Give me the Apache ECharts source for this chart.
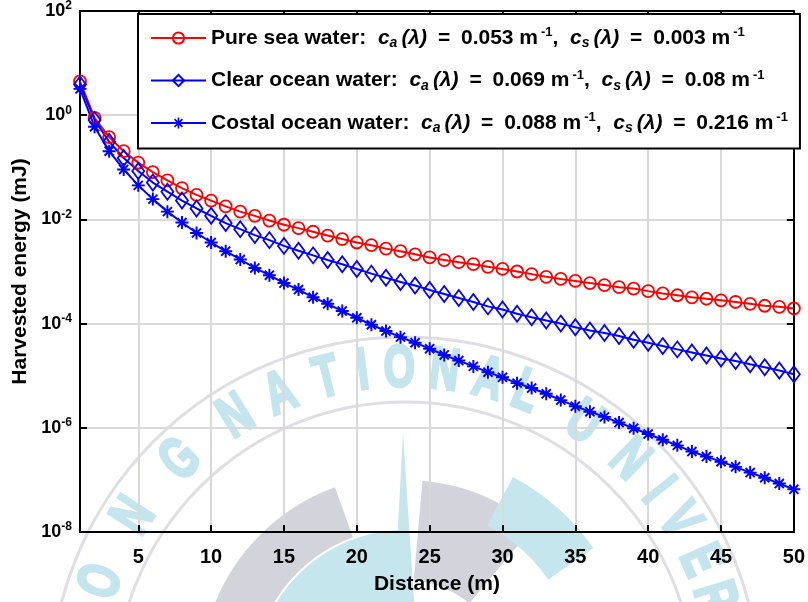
<!DOCTYPE html>
<html>
<head>
<meta charset="utf-8">
<script src="https://cdn.jsdelivr.net/npm/echarts@6/dist/echarts.min.js"></script>
<style>
  html, body { margin: 0; padding: 0; background: #fff; }
  #chart { width: 808px; height: 602px; }
</style>
</head>
<body>
<div id="chart"></div>
<script>
// Transmitter-receiver distance (m)
const distances = [1, 2, 3, 4, 5, 6, 7, 8, 9, 10, 11, 12, 13, 14, 15, 16, 17, 18, 19, 20,
  21, 22, 23, 24, 25, 26, 27, 28, 29, 30, 31, 32, 33, 34, 35, 36, 37, 38, 39, 40,
  41, 42, 43, 44, 45, 46, 47, 48, 49, 50];

// Harvested energy (mJ) for each water type
const pureSea = [4.45, 0.89, 0.38, 0.204, 0.123, 0.081, 0.056, 0.040, 0.0295, 0.0229,
  0.0178, 0.0141, 0.0117, 0.0095, 0.0079, 0.0068, 0.0058, 0.0049, 0.0042, 0.0036,
  0.0032, 0.00275, 0.00245, 0.00214, 0.00186, 0.00166, 0.00151, 0.00138, 0.00123, 0.00112,
  0.00100, 0.00089, 0.00079, 0.00072, 0.00066, 0.00060, 0.00055, 0.00050, 0.00047, 0.00042,
  0.00038, 0.00035, 0.00032, 0.00030, 0.00028, 0.00026, 0.00024, 0.00022, 0.00021, 0.000195];

const clearOcean = [3.9, 0.81, 0.31, 0.151, 0.085, 0.051, 0.034, 0.023, 0.0162, 0.0117,
  0.0085, 0.0065, 0.0050, 0.0040, 0.0031, 0.0025, 0.00204, 0.00166, 0.00138, 0.00112,
  0.00091, 0.00076, 0.00063, 0.00054, 0.00044, 0.00037, 0.00031, 0.00026, 0.000214, 0.000186,
  0.000155, 0.000132, 0.000115, 0.000100, 0.000085, 0.000074, 0.000066, 0.000058, 0.000049, 0.000043,
  0.000037, 0.000032, 0.000028, 0.0000245, 0.0000214, 0.0000191, 0.0000166, 0.0000145, 0.0000126, 0.0000107];

const coastalOcean = [3.2, 0.60, 0.204, 0.091, 0.045, 0.0245, 0.0141, 0.0087, 0.0055, 0.0036,
  0.00245, 0.0017, 0.00117, 0.00085, 0.0006, 0.00045, 0.00032, 0.00024, 0.000174, 0.000129,
  0.000095, 0.000072, 0.000055, 0.000043, 0.000033, 0.000025, 0.0000195, 0.0000151, 0.0000117, 0.0000093,
  0.0000072, 0.0000058, 0.0000045, 0.0000034, 0.0000026, 0.00000204, 0.00000162, 0.00000126, 9.8e-7, 7.6e-7,
  5.9e-7, 4.6e-7, 3.5e-7, 2.8e-7, 2.24e-7, 1.78e-7, 1.38e-7, 1.10e-7, 8.5e-8, 6.6e-8];

const seriesNames = ['Pure sea water', 'Clear ocean water', 'Costal ocean water'];
const absorption = ['0.053', '0.069', '0.088'];
const scattering = ['0.003', '0.08', '0.216'];

const xTickStep = 5;
const yRange = [1e-8, 1e2];

const FONT = '"Liberation Sans", Arial, Helvetica, sans-serif';

// MATLAB-style asterisk marker (+ and x overlaid)
const asterisk = 'path://M0 8.5H20V11.5H0Z M8.5 0H11.5V20H8.5Z ' +
  'M1.94 4.06L4.06 1.94L18.06 15.94L15.94 18.06Z M15.94 1.94L18.06 4.06L4.06 18.06L1.94 15.94Z';

const onStep = (i, v) => Number(v) % xTickStep === 0;

// Faint university seal in the background
const seal = { cx: 405, cy: 692 };
const emblem = { cx: 405, cy: 680 };
const sealLetters = [['Y', -82], ['O', -70], ['N', -57], ['G', -44], ['N', -31.5], ['A', -22.7],
  ['T', -14], ['I', -7.5], ['O', -1], ['N', 7], ['A', 15], ['L', 22], ['U', 33.6], ['N', 44],
  ['I', 51.5], ['V', 58], ['E', 66], ['R', 73]];
const deg = Math.PI / 180;
const grayTone = '#d3d3dc';
const cyanTone = '#c6e6ee';
const letterTone = '#c4e5ee';
const sector = (r0, r, a0, a1, fill) => ({
  type: 'sector', z: -10,
  shape: { cx: emblem.cx, cy: emblem.cy, r0: r0, r: r, startAngle: a0 * deg, endAngle: a1 * deg },
  style: { fill: fill }
});
const sealGraphics = [
  { type: 'circle', z: -10, shape: { cx: seal.cx, cy: seal.cy, r: 355 },
    style: { fill: 'none', stroke: '#dedee4', lineWidth: 3 } },
  { type: 'circle', z: -10, shape: { cx: seal.cx, cy: seal.cy, r: 290 },
    style: { fill: 'none', stroke: '#dedee4', lineWidth: 3 } },
  sector(40, 150, 205, 268, cyanTone),
  sector(152, 205, 200, 250, grayTone),
  sector(100, 200, 275, 310, grayTone),
  sector(175, 230, 298, 325, cyanTone),
  { type: 'polygon', z: -10, shape: { points: [[394, 602], [403, 432], [414, 602]] },
    style: { fill: cyanTone } }
].concat(sealLetters.map(([ch, a]) => ({
  type: 'text', z: -9,
  x: seal.cx + 322 * Math.sin(a * deg),
  y: seal.cy - 322 * Math.cos(a * deg),
  rotation: -a * deg,
  scaleX: 0.72,
  scaleY: 1.05,
  style: {
    text: ch, fontSize: 56, fontWeight: 'bold', fontFamily: 'Liberation Sans',
    fill: letterTone, stroke: letterTone, lineWidth: 3,
    align: 'center', verticalAlign: 'middle'
  }
})));

const legendFont = { fontFamily: FONT, fontWeight: 'bold', color: '#000' };
const legendRich = {
  t: Object.assign({ fontSize: 21 }, legendFont),
  eq: Object.assign({ fontSize: 21, padding: [0, 5, 0, 5] }, legendFont),
  i: Object.assign({ fontSize: 21, fontStyle: 'italic' }, legendFont),
  sub: Object.assign({ fontSize: 14, fontStyle: 'italic', padding: [11, 4, 0, 0] }, legendFont),
  sup: Object.assign({ fontSize: 13, padding: [0, 0, 11, 3] }, legendFont)
};

function legendText(name) {
  const k = seriesNames.indexOf(name);
  return '{t|' + name + ':  }{i|c}{sub|a}{i|(\u03bb)}{eq| = }{t|' + absorption[k] + ' m}{sup|-1}{t|,  }' +
    '{i|c}{sub|s}{i|(\u03bb)}{eq| = }{t|' + scattering[k] + ' m}{sup|-1}';
}

function yLabel(v) {
  const e = Math.round(Math.log10(v));
  return '{b|10}{s|' + e + '}';
}

const chart = echarts.init(document.getElementById('chart'), null, { renderer: 'canvas' });

chart.setOption({
  animation: false,
  backgroundColor: '#fff',
  graphic: { elements: sealGraphics },
  grid: { left: 80, right: 14, top: 8, bottom: 70, containLabel: false },
  legend: {
    data: seriesNames,
    left: 138, top: 14,
    orient: 'vertical',
    itemWidth: 55, itemHeight: 14,
    itemGap: 18,
    padding: [12, 12, 13, 12],
    backgroundColor: '#fff',
    borderColor: '#000', borderWidth: 2,
    formatter: legendText,
    textStyle: { color: '#000', rich: legendRich },
    z: 20
  },
  xAxis: [{
    type: 'category',
    data: distances,
    boundaryGap: false,
    name: 'Distance (m)',
    nameLocation: 'middle',
    nameGap: 42,
    nameTextStyle: { fontFamily: FONT, fontSize: 21, fontWeight: 'bold', color: '#000' },
    axisLine: { lineStyle: { color: '#000', width: 2 } },
    axisTick: { inside: true, length: 7, interval: onStep, lineStyle: { color: '#000', width: 2 } },
    axisLabel: { interval: onStep, margin: 15, fontFamily: FONT, fontSize: 20, fontWeight: 'bold', color: '#000' },
    splitLine: { show: true, interval: onStep, lineStyle: { color: '#d9d9d9', width: 2 } }
  }, {
    type: 'category',
    data: distances,
    boundaryGap: false,
    position: 'top',
    axisLine: { lineStyle: { color: '#000', width: 2 } },
    axisTick: { inside: true, length: 7, interval: onStep, lineStyle: { color: '#000', width: 2 } },
    axisLabel: { show: false },
    splitLine: { show: false }
  }],
  yAxis: [{
    type: 'log',
    logBase: 100,
    min: yRange[0], max: yRange[1],
    name: 'Harvested energy (mJ)',
    nameLocation: 'middle',
    nameGap: 47,
    nameTextStyle: { fontFamily: FONT, fontSize: 21, fontWeight: 'bold', color: '#000' },
    axisLine: { show: true, lineStyle: { color: '#000', width: 2 } },
    axisTick: { show: true, inside: true, length: 7, lineStyle: { color: '#000', width: 2 } },
    minorTick: { show: false },
    axisLabel: {
      margin: 8, formatter: yLabel,
      rich: {
        b: { fontFamily: FONT, fontSize: 18, fontWeight: 'bold', color: '#000' },
        s: { fontFamily: FONT, fontSize: 12, fontWeight: 'bold', color: '#000', padding: [0, 0, 10, 0] }
      }
    },
    splitLine: { show: true, lineStyle: { color: '#d9d9d9', width: 2 } }
  }, {
    type: 'log',
    logBase: 100,
    min: yRange[0], max: yRange[1],
    position: 'right',
    axisLine: { show: true, lineStyle: { color: '#000', width: 2 } },
    axisTick: { show: true, inside: true, length: 7, lineStyle: { color: '#000', width: 2 } },
    axisLabel: { show: false },
    splitLine: { show: false }
  }],
  series: [{
    name: seriesNames[0], type: 'line', data: pureSea,
    symbol: 'circle', symbolSize: 12, showAllSymbol: true,
    lineStyle: { color: '#ff0000', width: 2 },
    itemStyle: { color: 'rgba(255,255,255,0)', borderColor: '#ff0000', borderWidth: 1.8 },
    z: 3
  }, {
    name: seriesNames[1], type: 'line', data: clearOcean,
    symbol: 'diamond', symbolSize: [12, 16], showAllSymbol: true,
    lineStyle: { color: '#0000ff', width: 2 },
    itemStyle: { color: 'rgba(255,255,255,0)', borderColor: '#0000ff', borderWidth: 1.8 },
    z: 3
  }, {
    name: seriesNames[2], type: 'line', data: coastalOcean,
    symbol: asterisk, symbolSize: 13, showAllSymbol: true,
    lineStyle: { color: '#0000ff', width: 2 },
    itemStyle: { color: '#0000ff' },
    z: 3
  }]
});
</script>
</body>
</html>
